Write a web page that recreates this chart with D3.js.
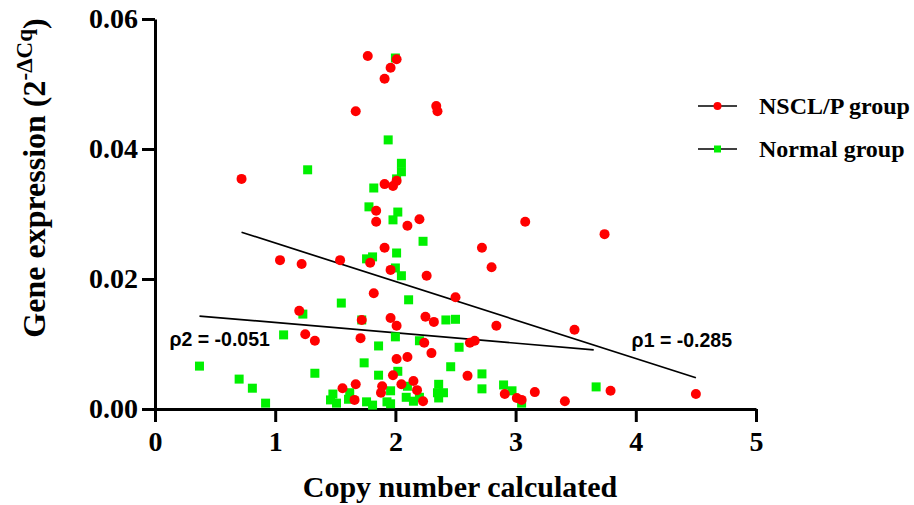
<!DOCTYPE html>
<html>
<head>
<meta charset="utf-8">
<script src="https://cdn.jsdelivr.net/npm/d3@7/dist/d3.min.js"></script>
<style>
    body { margin: 0; background: #fff; }
</style>
</head>
<body>
<svg id="chart" width="914" height="505"></svg>
<script>
// tick values
let xTicks = [0, 1, 2, 3, 4, 5];
let yTicks = [0, 0.02, 0.04, 0.06];

// NSCL/P group (copy number, 2^-dCq)
let nsclPoints = [
    [1.77, 0.0543], [2.01, 0.0538], [1.96, 0.0525], [1.91, 0.0508], [1.67, 0.0458],
    [2.34, 0.0466], [2.35, 0.0458], [0.72, 0.0354], [1.91, 0.0346], [1.98, 0.0343],
    [2.01, 0.0351], [1.84, 0.0305], [1.84, 0.0288], [2.20, 0.0292], [2.10, 0.0282],
    [1.91, 0.0248], [1.04, 0.0229], [1.22, 0.0223], [1.54, 0.0229], [1.79, 0.0225],
    [1.96, 0.0214], [2.26, 0.0205], [1.82, 0.0178], [2.50, 0.0172], [1.20, 0.0151],
    [1.72, 0.0137], [1.96, 0.0140], [2.01, 0.0128], [2.25, 0.0142], [2.32, 0.0134],
    [1.25, 0.0115], [1.33, 0.0105], [1.71, 0.0109], [2.24, 0.0102], [2.30, 0.0086],
    [2.62, 0.0102], [2.66, 0.0105], [2.01, 0.0077], [2.10, 0.0080], [1.98, 0.0052],
    [2.15, 0.0043], [2.05, 0.0038], [1.89, 0.0035], [1.67, 0.0038], [1.56, 0.0032],
    [2.18, 0.0029], [1.88, 0.0025], [1.66, 0.0014], [2.23, 0.0012], [2.60, 0.0051],
    [3.08, 0.0288], [3.74, 0.0269], [2.72, 0.0248], [2.80, 0.0218], [2.84, 0.0128],
    [3.49, 0.0122], [2.91, 0.0023], [3.01, 0.0017], [3.05, 0.0014], [3.16, 0.0026],
    [3.41, 0.0012], [3.79, 0.0028], [4.50, 0.0023]
];

// Normal group
let normalPoints = [
    [2.00, 0.0540], [1.94, 0.0414], [1.27, 0.0368], [2.05, 0.0378], [2.05, 0.0365],
    [2.01, 0.0354], [1.82, 0.0340], [1.78, 0.0311], [2.02, 0.0303], [1.98, 0.0291],
    [2.23, 0.0258], [2.01, 0.0240], [1.81, 0.0234], [1.76, 0.0231], [2.00, 0.0217],
    [2.05, 0.0205], [2.11, 0.0168], [1.55, 0.0163], [1.23, 0.0146], [1.72, 0.0137],
    [2.42, 0.0137], [2.50, 0.0138], [1.07, 0.0114], [2.00, 0.0111], [2.20, 0.0105],
    [1.86, 0.0097], [2.53, 0.0095], [0.37, 0.0066], [1.74, 0.0071], [2.46, 0.0065],
    [1.33, 0.0055], [1.86, 0.0052], [2.02, 0.0058], [0.70, 0.0046], [0.81, 0.0032],
    [0.92, 0.0009], [1.46, 0.0014], [1.48, 0.0023], [1.51, 0.0009], [1.61, 0.0015],
    [1.62, 0.0025], [1.76, 0.0011], [1.81, 0.0006], [1.93, 0.0011], [1.96, 0.0008],
    [1.96, 0.0028], [2.10, 0.0035], [2.09, 0.0018], [2.15, 0.0012], [2.20, 0.0018],
    [2.36, 0.0038], [2.35, 0.0025], [2.40, 0.0025], [2.36, 0.0017], [2.72, 0.0054],
    [2.72, 0.0031], [2.90, 0.0037], [2.97, 0.0028], [3.05, 0.0009], [3.67, 0.0034]
];

// regression lines (end points)
let nsclFit = [[0.72, 0.0272], [4.50, 0.0048]];
let normalFit = [[0.37, 0.0143], [3.65, 0.0091]];

let legendLabels = ["NSCL/P group", "Normal group"];
let rhoLabels = ["\u03c11 = -0.285", "\u03c12 = -0.051"];

const red = "#ff0000";
const green = "#00f000";
const serif = "'Liberation Serif', 'Times New Roman', serif";
const sans = "'Liberation Sans', Arial, sans-serif";

let svg = d3.select("#chart");
let margin = {left: 155, right: 158, top: 19, bottom: 96};
let width = 914 - margin.left - margin.right;
let height = 505 - margin.top - margin.bottom;

let x = d3.scaleLinear().domain([0, 5]).range([0, width]);
let y = d3.scaleLinear().domain([0, 0.06]).range([height, 0]);

let g = svg.append("g").attr("transform", "translate(" + margin.left + "," + margin.top + ")");

// axes
let xAxis = g.append("g")
    .attr("transform", "translate(0," + height + ")")
    .call(d3.axisBottom(x).tickValues(xTicks).tickSize(13).tickSizeOuter(0).tickPadding(9)
        .tickFormat(d3.format("d")));
let yAxis = g.append("g")
    .call(d3.axisLeft(y).tickValues(yTicks).tickSize(13).tickSizeOuter(0).tickPadding(4)
        .tickFormat(d3.format(".2f")));

[xAxis, yAxis].forEach(function (a) {
    a.select(".domain").attr("stroke", "#000").attr("stroke-width", 3);
    a.selectAll(".tick line").attr("stroke", "#000").attr("stroke-width", 3);
    a.selectAll(".tick text")
        .attr("fill", "#000")
        .style("font-family", serif)
        .style("font-weight", "bold")
        .style("font-size", "28px");
});

// regression lines
let line = d3.line().x(function (d) { return x(d[0]); }).y(function (d) { return y(d[1]); });
g.append("path").datum(normalFit).attr("d", line)
    .attr("fill", "none").attr("stroke", "#000").attr("stroke-width", 1.7);
g.append("path").datum(nsclFit).attr("d", line)
    .attr("fill", "none").attr("stroke", "#000").attr("stroke-width", 1.7);

// points
let sq = 9;
g.append("g").selectAll("rect")
    .data(normalPoints)
    .enter().append("rect")
    .attr("x", function (d) { return x(d[0]) - sq / 2; })
    .attr("y", function (d) { return y(d[1]) - sq / 2; })
    .attr("width", sq).attr("height", sq)
    .attr("fill", green);

g.append("g").selectAll("circle")
    .data(nsclPoints)
    .enter().append("circle")
    .attr("cx", function (d) { return x(d[0]); })
    .attr("cy", function (d) { return y(d[1]); })
    .attr("r", 5)
    .attr("fill", red);

// rho labels
g.append("text").attr("x", x(3.965)).attr("y", y(0.0106))
    .attr("dy", "0.35em")
    .style("font-family", sans).style("font-weight", "bold").style("font-size", "19.5px")
    .text(rhoLabels[0]);
g.append("text").attr("x", x(0.12)).attr("y", y(0.0108))
    .attr("dy", "0.35em")
    .style("font-family", sans).style("font-weight", "bold").style("font-size", "19.5px")
    .text(rhoLabels[1]);

// axis titles
svg.append("text")
    .attr("x", 460).attr("y", 497)
    .attr("text-anchor", "middle")
    .style("font-family", serif).style("font-weight", "bold").style("font-size", "30px")
    .text("Copy number calculated");

let yt = svg.append("text")
    .attr("transform", "translate(45,178) rotate(-90)")
    .attr("text-anchor", "middle")
    .style("font-family", serif).style("font-weight", "bold").style("font-size", "32px");
yt.append("tspan").text("Gene expression (2");
yt.append("tspan").attr("dy", -13).style("font-size", "23px").text("-\u0394Cq");
yt.append("tspan").attr("dy", 13).text(")");

// legend
let legend = svg.append("g").attr("transform", "translate(698,106)");
let items = legend.selectAll("g")
    .data(legendLabels)
    .enter().append("g")
    .attr("transform", function (d, i) { return "translate(0," + i * 43 + ")"; });
items.append("line").attr("x1", 0).attr("x2", 39).attr("y1", 0).attr("y2", 0)
    .attr("stroke", "#000").attr("stroke-width", 1.7);
items.each(function (d, i) {
    let it = d3.select(this);
    if (i === 0) {
        it.append("circle").attr("cx", 19.5).attr("cy", 0).attr("r", 4).attr("fill", red);
    } else {
        it.append("rect").attr("x", 16).attr("y", -3.5).attr("width", 7).attr("height", 7).attr("fill", green);
    }
});
items.append("text").attr("x", 61).attr("dy", "0.35em")
    .style("font-family", serif).style("font-weight", "bold").style("font-size", "24px")
    .text(function (d) { return d; });
</script>
</body>
</html>
